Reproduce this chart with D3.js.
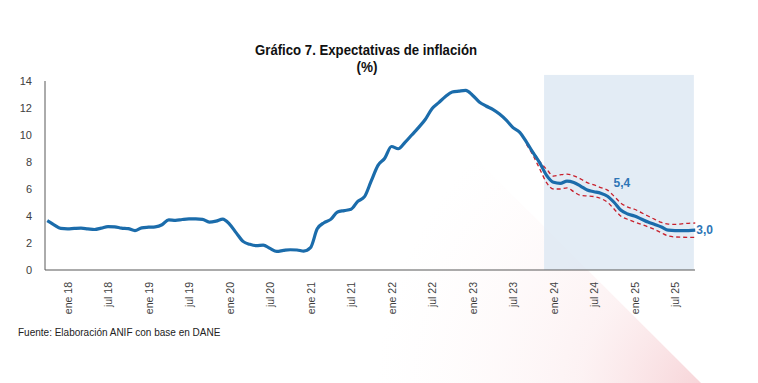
<!DOCTYPE html>
<html><head><meta charset="utf-8">
<script src="https://cdn.jsdelivr.net/npm/d3@7"></script>
<style>body{margin:0;background:#fff}svg{display:block}</style>
</head><body>
<svg id="c" width="758" height="383"></svg>
<script>
// Month index 0 = Jan 2018; series starts Oct 2017 (index -3)
const firstMonth = -3;
const inflation = [
  3.65,3.35,3.08, 3.05,3.08,3.1,3.05,3.0,3.1,3.22,3.2,3.1,3.06,2.92,3.12,
  3.17,3.2,3.35,3.72,3.68,3.74,3.78,3.78,3.75,3.55,3.62,3.77,
  3.4,2.75,2.12,1.9,1.8,1.85,1.6,1.38,1.45,1.5,1.48,1.4,
  1.65,3.05,3.5,3.75,4.3,4.4,4.5,5.08,5.43,6.6,7.75,8.28,
  9.15,8.98,9.45,10.0,10.55,11.15,11.95,12.4,12.85,13.18,13.25,13.3,
  12.95,12.45,12.15,11.9,11.55,11.1,10.55,10.2,9.47,8.67,7.9,6.99,
  6.5,6.42,6.58,6.48,6.22,5.92,5.8,5.68,5.46,5.0,4.42,4.15,
  4.0,3.78,3.55,3.37,3.18,2.95,2.92,2.92,2.92,2.95
];
const bandStart = 68;
const upperBand = [9.4,8.75,8.0,7.45,6.96,7.05,7.1,6.98,6.75,6.47,6.3,6.1,5.92,5.45,4.95,4.66,4.5,4.25,4.0,3.75,3.52,3.4,3.38,3.42,3.46,3.48];
const lowerBand = [9.3,8.45,7.45,6.45,6.0,6.0,6.08,5.8,5.53,5.48,5.44,5.3,5.02,4.5,3.98,3.75,3.56,3.38,3.2,3.0,2.75,2.52,2.45,2.43,2.42,2.42];
const tickMonths = [0,6,12,18,24,30,36,42,48,54,60,66,72,78,84,90];
const tickLabels = ["ene 18","jul 18","ene 19","jul 19","ene 20","jul 20","ene 21","jul 21","ene 22","jul 22","ene 23","jul 23","ene 24","jul 24","ene 25","jul 25"];
const yTicks = [0,2,4,6,8,10,12,14];
const shadeRange = [70.6, 92.8];
const annotations = [{month:80, value:5.4, text:"5,4"},{month:93, value:3.0, text:"3,0"}];
const title = "Gráfico 7. Expectativas de inflación";
const subtitle = "(%)";
const source = "Fuente: Elaboración ANIF con base en DANE";

const svg = d3.select("#c");
const x = d3.scaleLinear().domain([0,90]).range([67.5,675]);
const y = d3.scaleLinear().domain([0,14]).range([270,81]);

const defs = svg.append("defs");
const rg = defs.append("radialGradient").attr("id","pink").attr("gradientUnits","userSpaceOnUse")
  .attr("cx",715).attr("cy",395).attr("r",340);
rg.append("stop").attr("offset",0).attr("stop-color","#ec97a0").attr("stop-opacity",0.45);
rg.append("stop").attr("offset",0.4).attr("stop-color","#f2b8be").attr("stop-opacity",0.18);
rg.append("stop").attr("offset",1).attr("stop-color","#fbe5e7").attr("stop-opacity",0);

svg.append("rect").attr("width",758).attr("height",383).attr("fill","#fff");
svg.append("polygon").attr("points","330,13 708,390 0,390").attr("fill","url(#pink)");

// forecast shading
svg.append("rect")
  .attr("x", x(shadeRange[0])).attr("y", y(14.45))
  .attr("width", x(shadeRange[1]) - x(shadeRange[0]))
  .attr("height", y(0) - y(14.45))
  .attr("fill","#dbe7f2").attr("opacity",0.78);

// axes
const yAxis = d3.axisLeft(y).tickValues(yTicks).tickSize(0).tickPadding(13);
const gy = svg.append("g").attr("transform","translate(45,0)").call(yAxis);
gy.select(".domain").remove();
gy.selectAll("text").attr("font-family","Liberation Sans, Arial, sans-serif").attr("font-size",11).attr("fill","#404040");

const xAxis = d3.axisBottom(x).tickValues(tickMonths).tickSize(0).tickFormat((d,i)=>tickLabels[i]);
const gx = svg.append("g").attr("transform","translate(0,270)").call(xAxis);
gx.select(".domain").remove();
gx.selectAll("text")
  .attr("font-family","Liberation Sans, Arial, sans-serif").attr("font-size",10.5).attr("fill","#404040")
  .attr("transform","rotate(-90)").attr("text-anchor","end")
  .attr("x",-12).attr("y",0).attr("dy","0.35em");

svg.append("line").attr("x1",45).attr("x2",45).attr("y1",y(14)).attr("y2",y(0)).attr("stroke","#595959").attr("stroke-width",1);
svg.append("line").attr("x1",45).attr("x2",695).attr("y1",y(0)).attr("y2",y(0)).attr("stroke","#595959").attr("stroke-width",1.2);

// lines
const line = d3.line().x(d=>x(d[0])).y(d=>y(d[1])).curve(d3.curveMonotoneX);
const mainPts = inflation.map((v,i)=>[firstMonth+i, v]);
const upPts = upperBand.map((v,i)=>[bandStart+i, v]);
const loPts = lowerBand.map((v,i)=>[bandStart+i, v]);

[upPts, loPts].forEach(p=>{
  svg.append("path").attr("d", line(p)).attr("fill","none")
    .attr("stroke","#c8202c").attr("stroke-width",1.3).attr("stroke-dasharray","4,3");
});
svg.append("path").attr("d", line(mainPts)).attr("fill","none")
  .attr("stroke","#1b6cab").attr("stroke-width",3.2).attr("stroke-linejoin","round");

// annotations
svg.append("text").attr("x", x(annotations[0].month)+6).attr("y", y(annotations[0].value)-10)
  .attr("font-family","Liberation Sans, Arial, sans-serif").attr("font-weight","bold").attr("font-size",12)
  .attr("fill","#2e75b6").text(annotations[0].text);
svg.append("text").attr("x", x(annotations[1].month)+1).attr("y", y(annotations[1].value)+4)
  .attr("font-family","Liberation Sans, Arial, sans-serif").attr("font-weight","bold").attr("font-size",12)
  .attr("fill","#2e75b6").text(annotations[1].text);

// titles (condensed face emulated with textLength)
svg.append("text").attr("x",366).attr("y",55).attr("text-anchor","middle")
  .attr("font-family","Liberation Sans, Arial, sans-serif").attr("font-weight","bold")
  .attr("font-size",15).attr("fill","#111")
  .attr("textLength",222).attr("lengthAdjust","spacingAndGlyphs").text(title);
svg.append("text").attr("x",367).attr("y",72).attr("text-anchor","middle")
  .attr("font-family","Liberation Sans, Arial, sans-serif").attr("font-weight","bold")
  .attr("font-size",15).attr("fill","#111")
  .attr("textLength",21).attr("lengthAdjust","spacingAndGlyphs").text(subtitle);
svg.append("text").attr("x",18).attr("y",336)
  .attr("font-family","Liberation Sans, Arial, sans-serif").attr("font-size",10).attr("fill","#222").text(source);
</script>
</body></html>
